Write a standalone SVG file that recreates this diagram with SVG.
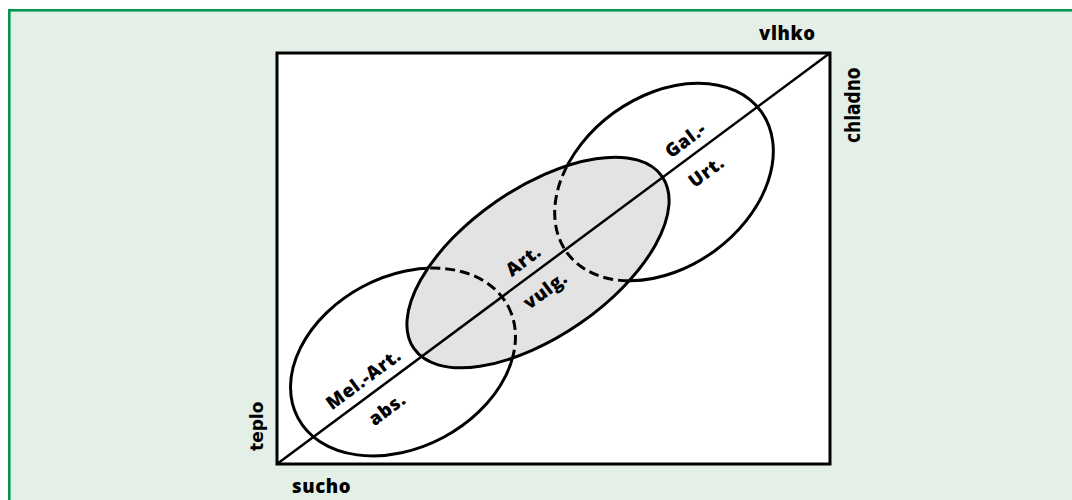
<svg xmlns="http://www.w3.org/2000/svg" width="1072" height="500" viewBox="0 0 1072 500">
<style>
.ol{fill:none;stroke:#000;stroke-width:3}
.dash{fill:none;stroke:#000;stroke-width:3;stroke-dasharray:10 5}
.lbl{font-family:"Open Sans","Liberation Sans",sans-serif;font-weight:800;font-size:18.5px;letter-spacing:0.6px;fill:#000}
.vl{font-family:"DejaVu Sans","Liberation Sans",sans-serif;font-weight:bold;font-size:17px;fill:#000}
</style>
<defs>
<clipPath id="clipArt">
<ellipse cx="538" cy="262.5" rx="151" ry="74" transform="rotate(-34.7 538 262.5)"/>
</clipPath>
</defs>
<rect x="0" y="0" width="1072" height="500" fill="#ffffff"/>
<g id="frame">
<rect x="9.3" y="10.3" width="1080" height="500" fill="#e3efe7" stroke="#00994f" stroke-width="2.6"/>
</g>
<g id="box">
<rect x="277" y="53" width="553" height="411" fill="#ffffff" stroke="#000" stroke-width="3"/>
</g>
<g id="ellipse-mel">
<ellipse class="ol" cx="403" cy="362" rx="119" ry="85.5" transform="rotate(-28 403 362)"/>
</g>
<g id="ellipse-gal">
<ellipse class="ol" cx="664" cy="182" rx="120" ry="85.5" transform="rotate(-36 664 182)"/>
</g>
<g id="ellipse-art">
<ellipse cx="538" cy="262.5" rx="151" ry="74" transform="rotate(-34.7 538 262.5)" fill="#e3e3e3" stroke="#000" stroke-width="3"/>
<g clip-path="url(#clipArt)">
<ellipse class="dash" cx="403" cy="362" rx="119" ry="85.5" transform="rotate(-28 403 362)"/>
<ellipse class="dash" cx="664" cy="182" rx="120" ry="85.5" transform="rotate(-36 664 182)"/>
</g>
</g>
<g id="connectors">
<line x1="277" y1="464" x2="830" y2="53" stroke="#000" stroke-width="2.5"/>
</g>
<g id="labels">
<text class="lbl" x="292" y="493">sucho</text>
<text class="lbl" x="759" y="40">vlhko</text>
<text class="vl" transform="translate(263,451) rotate(-90)">teplo</text>
<text class="vl" transform="translate(860,143) scale(1.25,1) rotate(-90)">chladno</text>
<g transform="translate(277,464) rotate(-36.62)">
<text class="lbl" x="120" y="-10" text-anchor="middle">Mel.-Art.</text>
<text class="lbl" x="121" y="28" text-anchor="middle">abs.</text>
<text class="lbl" x="319" y="-10" text-anchor="middle">Art.</text>
<text class="lbl" x="319" y="27" text-anchor="middle">vulg.</text>
<text class="lbl" x="521" y="-10" text-anchor="middle">Gal.-</text>
<text class="lbl" x="519" y="28" text-anchor="middle">Urt.</text>
</g>
</g>
</svg>
